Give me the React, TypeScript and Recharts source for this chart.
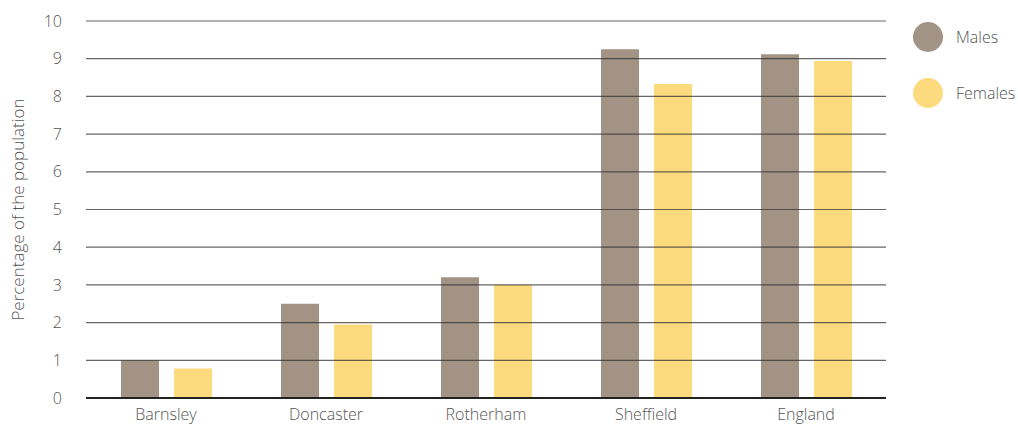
import { BarChart, Bar, XAxis, YAxis, ReferenceLine, Label } from 'recharts'

const categories = ['Barnsley', 'Doncaster', 'Rotherham', 'Sheffield', 'England']
const males = [1.0, 2.5, 3.2, 9.25, 9.12]
const females = [0.78, 1.95, 3.0, 8.33, 8.94]
const yTicks = [0, 1, 2, 3, 4, 5, 6, 7, 8, 9, 10]

const MALE_COLOR = '#a29384'
const FEMALE_COLOR = '#fdda7e'
const FONT = '"Open Sans", sans-serif'
const TEXT = { fontFamily: FONT, fontSize: 16, fontWeight: 300, fill: '#555' }

const data = categories.map((name, i) => ({ name, males: males[i], females: females[i] }))

const series = [
  { key: 'males', label: 'Males', color: MALE_COLOR },
  { key: 'females', label: 'Females', color: FEMALE_COLOR },
]

function ChartLegend() {
  return (
    <div
      style={{
        position: 'absolute',
        left: 913,
        top: 22,
        fontFamily: FONT,
        fontSize: 16,
        fontWeight: 300,
        color: '#555',
      }}
    >
      {series.map((s, i) => (
        <div
          key={s.key}
          style={{ display: 'flex', alignItems: 'center', height: 30, marginBottom: i === 0 ? 26 : 0 }}
        >
          <span
            style={{
              display: 'inline-block',
              width: 30,
              height: 30,
              borderRadius: '50%',
              background: s.color,
              marginRight: 13,
            }}
          />
          {s.label}
        </div>
      ))}
    </div>
  )
}

export default function App() {
  return (
    <div style={{ position: 'fixed', left: 0, top: 0, width: 1018, height: 425, background: '#fff' }}>
      <BarChart
        width={1018}
        height={425}
        data={data}
        margin={{ top: 21, right: 132, bottom: 0, left: 0 }}
        barSize={38}
        barGap={15}
      >
        <XAxis
          dataKey="name"
          height={27}
          axisLine={false}
          tickLine={false}
          tickMargin={5}
          tick={TEXT}
        />
        <YAxis
          width={86}
          domain={[0, 10]}
          ticks={yTicks}
          interval={0}
          axisLine={false}
          tickLine={false}
          tickMargin={18}
          tick={TEXT}
        >
          <Label
            value="Percentage of the population"
            angle={-90}
            position="insideLeft"
            offset={18}
            style={{ ...TEXT, fontSize: 17, textAnchor: 'middle' }}
          />
        </YAxis>
        <Bar dataKey="males" name="Males" fill={MALE_COLOR} isAnimationActive={false} />
        <Bar dataKey="females" name="Females" fill={FEMALE_COLOR} isAnimationActive={false} />
        {yTicks.map((t) => (
          <ReferenceLine
            key={t}
            y={t}
            stroke={t === 0 ? '#222' : '#333'}
            strokeWidth={t === 0 ? 2 : 1.2}
            strokeOpacity={t === 0 ? 1 : 0.75}
          />
        ))}
      </BarChart>
      <ChartLegend />
    </div>
  )
}
